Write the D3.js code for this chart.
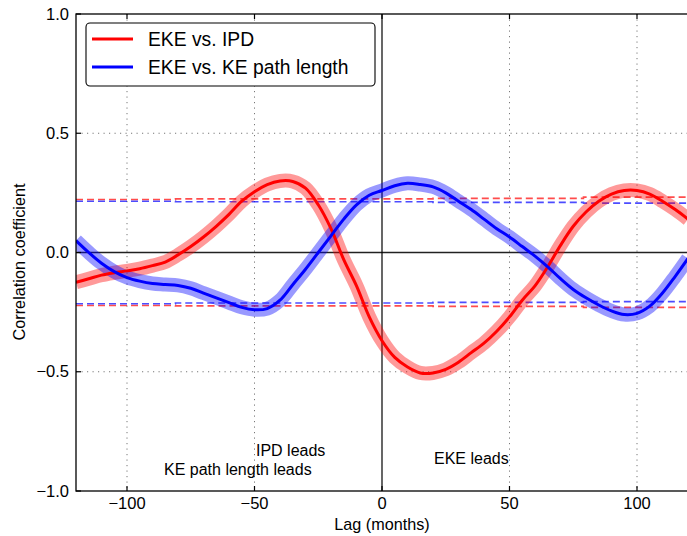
<!DOCTYPE html>
<html>
<head>
<meta charset="utf-8">
<script src="https://cdn.jsdelivr.net/npm/d3@7"></script>
<style>
  body { margin: 0; background: #fff; }
  svg { display: block; font-family: "Liberation Sans", Arial, sans-serif; }
</style>
</head>
<body>
<div id="chart"></div>
<script>
// lag in months
const lags = [-120, -115, -110, -105, -100, -95, -90, -85, -80, -75, -70, -65, -60, -55, -50,
  -45, -40, -35, -30, -25, -20, -15, -10, -5, 0, 5, 10, 15, 20, 25, 30, 35, 40, 45, 50,
  55, 60, 65, 70, 75, 80, 85, 90, 95, 100, 105, 110, 115, 120];

// EKE vs. IPD
const ipd = [-0.125, -0.11, -0.095, -0.085, -0.077, -0.068, -0.055, -0.04, -0.01, 0.025, 0.065, 0.11,
  0.16, 0.215, 0.255, 0.285, 0.30, 0.298, 0.27, 0.20, 0.10, -0.03, -0.14, -0.27, -0.37, -0.44,
  -0.48, -0.505, -0.505, -0.49, -0.46, -0.42, -0.38, -0.33, -0.27, -0.20, -0.14, -0.06, 0.03,
  0.11, 0.17, 0.215, 0.245, 0.26, 0.26, 0.245, 0.215, 0.18, 0.14];

// EKE vs. KE path length
const kepl = [0.05, 0.0, -0.045, -0.08, -0.105, -0.12, -0.13, -0.134, -0.138, -0.15, -0.17, -0.19,
  -0.21, -0.23, -0.24, -0.235, -0.20, -0.135, -0.07, 0.0, 0.07, 0.14, 0.20, 0.24, 0.26, 0.28,
  0.29, 0.285, 0.275, 0.25, 0.215, 0.18, 0.14, 0.10, 0.065, 0.025, -0.015, -0.06, -0.11,
  -0.155, -0.19, -0.22, -0.245, -0.26, -0.255, -0.225, -0.17, -0.10, -0.025];

// significance levels (step-wise)
const sigLags = [-120, -81, 20, 79, 120];
const ipdUpper = [0.222, 0.225, 0.227, 0.232, 0.232];
const ipdLower = [-0.222, -0.224, -0.226, -0.23, -0.23];
const keplUpper = [0.215, 0.213, 0.21, 0.207, 0.207];
const keplLower = [-0.215, -0.212, -0.209, -0.206, -0.206];

const xTicks = [-100, -50, 0, 50, 100];
const yTicks = [-1.0, -0.5, 0.0, 0.5, 1.0];

const width = 687, height = 536;
const m = { left: 76, right: 688, top: 14, bottom: 491 };

const svg = d3.select('#chart').append('svg')
  .attr('width', width)
  .attr('height', height);

const x = d3.scaleLinear().domain([-120, 120]).range([m.left, m.right]);
const y = d3.scaleLinear().domain([-1, 1]).range([m.bottom, m.top]);

svg.append('defs').append('clipPath').attr('id', 'plot')
  .append('rect')
  .attr('x', m.left).attr('y', m.top)
  .attr('width', m.right - m.left).attr('height', m.bottom - m.top);

// grid
const grid = svg.append('g').attr('stroke', '#777').attr('stroke-width', 1)
  .attr('stroke-dasharray', '1.2,4.3');
xTicks.filter(d => d !== 0).forEach(d => {
  grid.append('line').attr('x1', x(d)).attr('x2', x(d)).attr('y1', m.top).attr('y2', m.bottom);
});
yTicks.filter(d => Math.abs(d) !== 1).forEach(d => {
  grid.append('line').attr('x1', m.left).attr('x2', m.right).attr('y1', y(d)).attr('y2', y(d));
});

const plot = svg.append('g').attr('clip-path', 'url(#plot)');

// zero lines
plot.append('line').attr('x1', m.left).attr('x2', m.right).attr('y1', y(0)).attr('y2', y(0))
  .attr('stroke', '#222').attr('stroke-width', 1.4);
plot.append('line').attr('x1', x(0)).attr('x2', x(0)).attr('y1', m.top).attr('y2', m.bottom)
  .attr('stroke', '#000').attr('stroke-width', 1.2);

// significance lines
const stepLine = d3.line().x(d => x(d[0])).y(d => y(d[1])).curve(d3.curveStepAfter);
const sig = [
  { vals: ipdUpper, color: '#ff0000' },
  { vals: ipdLower, color: '#ff0000' },
  { vals: keplUpper, color: '#0000ff' },
  { vals: keplLower, color: '#0000ff' }
];
sig.forEach(s => {
  plot.append('path')
    .attr('d', stepLine(sigLags.map((l, i) => [l, s.vals[i]])))
    .attr('fill', 'none')
    .attr('stroke', s.color)
    .attr('stroke-opacity', 0.7)
    .attr('stroke-width', 1.6)
    .attr('stroke-dasharray', '7,4');
});

// correlation curves
const curve = d3.line().x(d => x(d[0])).y(d => y(d[1])).curve(d3.curveCatmullRom);
const series = [
  { vals: ipd, color: '#ff0000' },
  { vals: kepl, color: '#0000ff' }
];
series.forEach(s => {
  const pts = lags.map((l, i) => [l, s.vals[i]]);
  plot.append('path')
    .attr('d', curve(pts))
    .attr('fill', 'none')
    .attr('stroke', s.color)
    .attr('stroke-opacity', 0.4)
    .attr('stroke-width', 14);
});
series.forEach(s => {
  const pts = lags.map((l, i) => [l, s.vals[i]]);
  plot.append('path')
    .attr('d', curve(pts))
    .attr('fill', 'none')
    .attr('stroke', s.color)
    .attr('stroke-width', 3);
});

// spines
svg.append('rect')
  .attr('x', m.left).attr('y', m.top)
  .attr('width', m.right - m.left).attr('height', m.bottom - m.top)
  .attr('fill', 'none').attr('stroke', '#000').attr('stroke-width', 1.3);

// ticks (inward)
const tickG = svg.append('g').attr('stroke', '#000').attr('stroke-width', 1.2);
xTicks.forEach(d => {
  tickG.append('line').attr('x1', x(d)).attr('x2', x(d)).attr('y1', m.bottom).attr('y2', m.bottom - 5);
  tickG.append('line').attr('x1', x(d)).attr('x2', x(d)).attr('y1', m.top).attr('y2', m.top + 5);
});
yTicks.forEach(d => {
  tickG.append('line').attr('x1', m.left).attr('x2', m.left + 5).attr('y1', y(d)).attr('y2', y(d));
});

const fmtY = d => (d < 0 ? '\u2212' : '') + Math.abs(d).toFixed(1);
const fmtX = d => (d < 0 ? '\u2212' : '') + Math.abs(d);

svg.append('g').selectAll('text').data(xTicks).join('text')
  .attr('x', d => x(d)).attr('y', 509)
  .attr('text-anchor', 'middle')
  .attr('font-size', 16.5)
  .text(fmtX);

svg.append('g').selectAll('text').data(yTicks).join('text')
  .attr('x', 69).attr('y', d => y(d) + 5.5)
  .attr('text-anchor', 'end')
  .attr('font-size', 16.5)
  .text(fmtY);

// axis labels
svg.append('text')
  .attr('x', x(0)).attr('y', 530)
  .attr('text-anchor', 'middle')
  .attr('font-size', 16.2)
  .text('Lag (months)');

svg.append('text')
  .attr('transform', `translate(25,262) rotate(-90)`)
  .attr('text-anchor', 'middle')
  .attr('font-size', 16.3)
  .text('Correlation coefficient');

// annotations
const notes = [
  { text: 'IPD leads', x: 256, y: 456 },
  { text: 'KE path length leads', x: 164, y: 475 },
  { text: 'EKE leads', x: 434, y: 464 }
];
svg.append('g').selectAll('text').data(notes).join('text')
  .attr('x', d => d.x).attr('y', d => d.y)
  .attr('font-size', 16)
  .text(d => d.text);

// legend
const legend = svg.append('g');
legend.append('rect')
  .attr('x', 86).attr('y', 23).attr('width', 289).attr('height', 63)
  .attr('rx', 4)
  .attr('fill', '#fff').attr('stroke', '#000').attr('stroke-width', 1.1);
const legendItems = [
  { label: 'EKE vs. IPD', color: '#ff0000', y: 39 },
  { label: 'EKE vs. KE path length', color: '#0000ff', y: 67 }
];
legendItems.forEach(d => {
  legend.append('line')
    .attr('x1', 92).attr('x2', 133).attr('y1', d.y).attr('y2', d.y)
    .attr('stroke', d.color).attr('stroke-width', 3);
  legend.append('text')
    .attr('x', 148).attr('y', d.y + 7)
    .attr('font-size', 19.3)
    .text(d.label);
});
</script>
</body>
</html>
